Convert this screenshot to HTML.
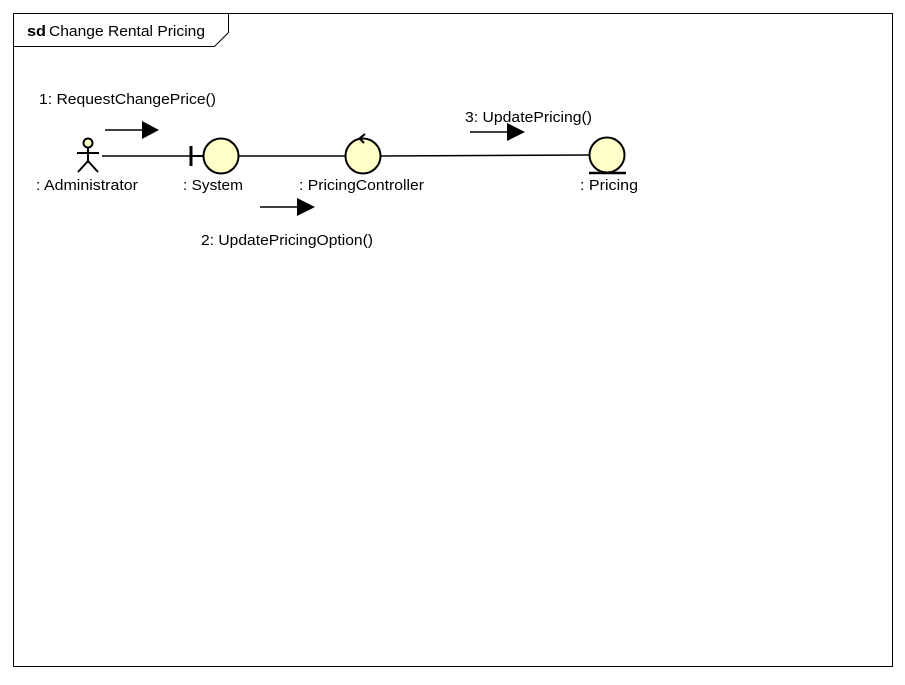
<!DOCTYPE html>
<html><head><style>body{margin:0;background:#fff}</style></head><body>
<svg width="905" height="680" xmlns="http://www.w3.org/2000/svg" font-family="Liberation Sans, sans-serif" font-size="15">
<rect x="13.5" y="13.5" width="879" height="653" fill="#fff" stroke="#000"/>
<path d="M13.5 46.5 H214.5 L228.5 32.5 V13.5" fill="none" stroke="#000"/>
<text x="27" y="36" font-weight="bold" textLength="19" lengthAdjust="spacingAndGlyphs">sd</text>
<text x="49" y="36" textLength="156" lengthAdjust="spacingAndGlyphs">Change Rental Pricing</text>
<g stroke="#000" stroke-width="1.5" fill="none">
<line x1="102" y1="156" x2="191" y2="156"/>
<line x1="239" y1="156" x2="346" y2="156"/>
<line x1="380" y1="156" x2="590" y2="155"/>
</g>
<g stroke="#000" stroke-width="2">
<circle cx="88" cy="143" r="4.5" fill="#ffffc8"/>
<line x1="88" y1="147.5" x2="88" y2="161"/>
<line x1="77" y1="153" x2="99" y2="153"/>
<line x1="88" y1="161" x2="78" y2="172"/>
<line x1="88" y1="161" x2="98" y2="172"/>
</g>
<g stroke="#000" stroke-width="2">
<line x1="191" y1="146" x2="191" y2="166" stroke-width="3"/>
<line x1="191" y1="156" x2="204" y2="156"/>
<circle cx="221" cy="156" r="17.5" fill="#ffffc8"/>
<circle cx="363" cy="156" r="17.5" fill="#ffffc8"/>
<path d="M365 134 L359.5 138.5 L364 143" fill="none"/>
<circle cx="607" cy="155" r="17.5" fill="#ffffc8"/>
<line x1="589" y1="173" x2="626" y2="173" stroke-width="2.5"/>
</g>
<g lengthAdjust="spacingAndGlyphs">
<text x="36" y="190" textLength="102" lengthAdjust="spacingAndGlyphs">: Administrator</text>
<text x="183" y="190" textLength="60" lengthAdjust="spacingAndGlyphs">: System</text>
<text x="299" y="190" textLength="125" lengthAdjust="spacingAndGlyphs">: PricingController</text>
<text x="580" y="190" textLength="58" lengthAdjust="spacingAndGlyphs">: Pricing</text>
<text x="39" y="104" textLength="177" lengthAdjust="spacingAndGlyphs">1: RequestChangePrice()</text>
<text x="201" y="245" textLength="172" lengthAdjust="spacingAndGlyphs">2: UpdatePricingOption()</text>
<text x="465" y="122" textLength="127" lengthAdjust="spacingAndGlyphs">3: UpdatePricing()</text>
</g>
<g stroke="#000" stroke-width="1.5">
<line x1="105" y1="130" x2="143" y2="130"/>
<line x1="260" y1="207" x2="298" y2="207"/>
<line x1="470" y1="132" x2="508" y2="132"/>
</g>
<g fill="#000">
<polygon points="142,121 159,130 142,139"/>
<polygon points="297,198 315,207 297,216"/>
<polygon points="507,123 525,132 507,141"/>
</g>
</svg>
</body></html>
